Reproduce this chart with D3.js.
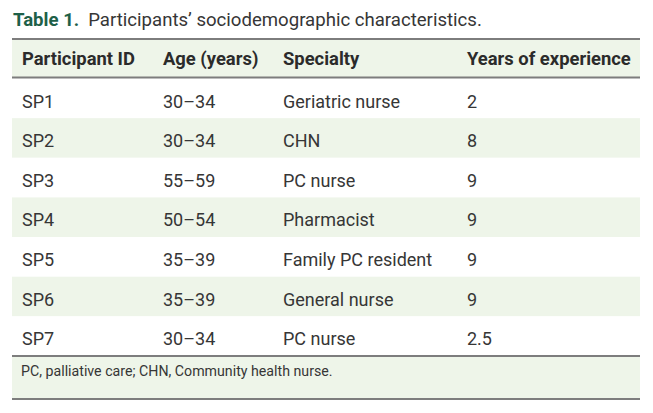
<!DOCTYPE html>
<html>
<head>
<meta charset="utf-8">
<script src="https://cdn.jsdelivr.net/npm/d3@7"></script>
<style>
html,body{margin:0;padding:0;background:#fff;}
svg{display:block;}
text{font-family:Roboto,"Noto Sans",sans-serif;}
</style>
</head>
<body>
<script>
const titleLabel = "Table 1.";
const titleText = "Participants\u2019 sociodemographic characteristics.";
const headers = ["Participant ID", "Age (years)", "Specialty", "Years of experience"];
const participantIds = ["SP1", "SP2", "SP3", "SP4", "SP5", "SP6", "SP7"];
const ageGroups = ["30\u201334", "30\u201334", "55\u201359", "50\u201354", "35\u201339", "35\u201339", "30\u201334"];
const specialties = ["Geriatric nurse", "CHN", "PC nurse", "Pharmacist", "Family PC resident", "General nurse", "PC nurse"];
const experienceYears = ["2", "8", "9", "9", "9", "9", "2.5"];
const footnote = "PC, palliative care; CHN, Community health nurse.";

const W = 653, H = 413;
const left = 12, right = 640;
const green = "#eef5e9", rule = "#7d7d7d", textCol = "#363636";

const svg = d3.select("body").append("svg").attr("width", W).attr("height", H);

const rows = participantIds.map((id, i) => [id, ageGroups[i], specialties[i], experienceYears[i]]);

const x = d3.scaleOrdinal().domain(d3.range(4)).range([22, 163, 283, 467]);
const y = d3.scaleBand().domain(participantIds).range([78.5, 356]);

// Title
const t = svg.append("text").attr("x", left + 1).attr("y", 26).attr("font-size", 18.6);
t.append("tspan").attr("font-weight", 700).attr("fill", "#1e6048").text(titleLabel);
t.append("tspan").attr("dx", 9).attr("fill", textCol).text(titleText);

// Header background
svg.append("rect").attr("x", left).attr("y", 39).attr("width", right - left).attr("height", 39).attr("fill", green);

// Row backgrounds (alternating)
svg.selectAll("rect.row").data(rows).join("rect").attr("class", "row")
  .attr("x", left).attr("width", right - left)
  .attr("y", d => y(d[0])).attr("height", y.bandwidth())
  .attr("fill", (d, i) => i % 2 === 1 ? green : "#fff");

// Footnote background
svg.append("rect").attr("x", left).attr("y", 356).attr("width", right - left).attr("height", 43).attr("fill", green);

// Rules
[39, 77.5, 356, 399].forEach(yy => {
  svg.append("line").attr("x1", left).attr("x2", right).attr("y1", yy).attr("y2", yy)
    .attr("stroke", rule).attr("stroke-width", 2.2);
});

// Header text
svg.selectAll("text.hdr").data(headers).join("text").attr("class", "hdr")
  .attr("x", (d, i) => x(i)).attr("y", 65)
  .attr("font-size", 18.4).attr("font-weight", 700).attr("fill", "#2b2b2b")
  .text(d => d);

// Body text
const rowG = svg.selectAll("g.r").data(rows).join("g").attr("class", "r")
  .attr("transform", d => `translate(0,${y(d[0]) + 29})`);
rowG.selectAll("text").data(d => d).join("text")
  .attr("x", (d, i) => x(i)).attr("y", 0)
  .attr("font-size", 18).attr("fill", textCol)
  .text(d => d);

// Footnote
svg.append("text").attr("x", 21).attr("y", 375.5).attr("font-size", 14.2).attr("fill", textCol).text(footnote);
</script>
</body>
</html>
